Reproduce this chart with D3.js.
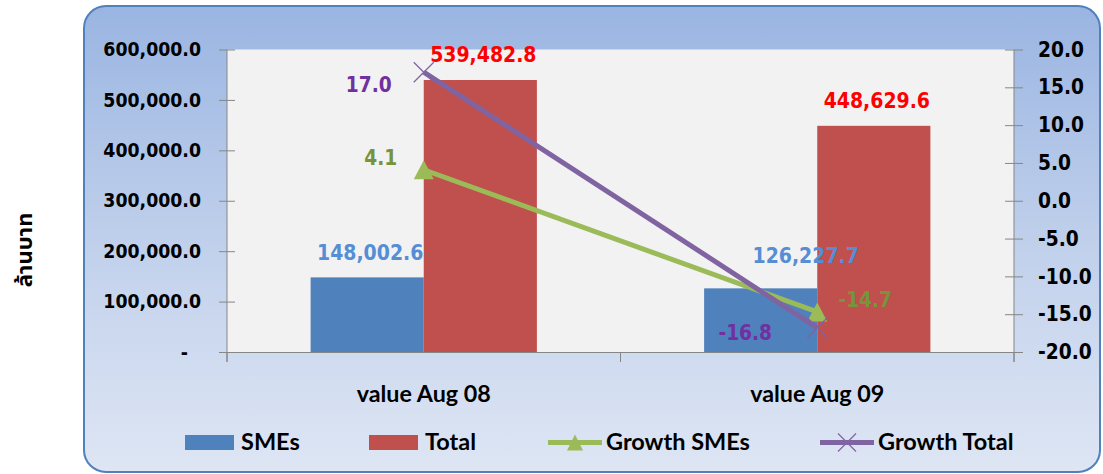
<!DOCTYPE html>
<html><head><meta charset="utf-8">
<script src="https://cdn.jsdelivr.net/npm/d3@7"></script>
<style>
html,body{margin:0;padding:0;background:#fff;}
svg{display:block;}
.num{font-family:"DejaVu Sans Condensed","DejaVu Sans",sans-serif;font-stretch:condensed;font-weight:bold;}
.cal{font-family:Lato,"Open Sans",sans-serif;font-weight:bold;}
</style></head><body>
<svg id="chart" width="1103" height="474"></svg>
<script>
// ---- data ----
const categories = ["value Aug 08", "value Aug 09"];
const barSeries = ["SMEs", "Total"];
const smesValues = [148002.6, 126227.7];
const totalValues = [539482.8, 448629.6];
const growthSmes = [4.1, -14.7];
const growthTotal = [17.0, -16.8];
const leftTicks = [0, 100000, 200000, 300000, 400000, 500000, 600000];
const rightTicks = [-20, -15, -10, -5, 0, 5, 10, 15, 20];
const legendLabels = ["SMEs", "Total", "Growth SMEs", "Growth Total"];
const yAxisTitle = "ล้านบาท";

// ---- layout / style ----
const plot = {left: 227, right: 1014, top: 49.5, bottom: 352};
const colors = {SMEs: "#4F81BD", Total: "#C0504D", gS: "#9BBB59", gT: "#8064A2"};
const labelColors = {SMEs: "#558ED5", Total: "#FF0000", gS: "#77933C", gT: "#7030A0"};
const barLabelNudge = {SMEs: [[3, -17], [45, -25.6]], Total: [[3, -18], [3, -18]]};
const gSNudge = [[-43, -5], [48, -5]];
const gTNudge = [[-55, 20], [-72, 12]];
const legendX = [185, 369, 548, 820];

const loc = d3.formatLocale({decimal: ".", thousands: ",", grouping: [3], currency: ["", ""], minus: "-"});
const fmtL = loc.format(",.1f");
const fmtR = loc.format(".1f");

const svg = d3.select("#chart");
const defs = svg.append("defs");
const grad = defs.append("linearGradient").attr("id", "bg").attr("x1", 0).attr("y1", 0).attr("x2", 0).attr("y2", 1);
grad.append("stop").attr("offset", "0%").attr("stop-color", "#9AB5E2");
grad.append("stop").attr("offset", "55%").attr("stop-color", "#C3D2EC");
grad.append("stop").attr("offset", "100%").attr("stop-color", "#DEE6F4");

svg.append("rect").attr("x", 84).attr("y", 6).attr("width", 1016).attr("height", 466)
  .attr("rx", 22).attr("fill", "url(#bg)").attr("stroke", "#4F81BD").attr("stroke-width", 2);

svg.append("rect").attr("x", plot.left).attr("y", plot.top)
  .attr("width", plot.right - plot.left).attr("height", plot.bottom - plot.top).attr("fill", "#F2F2F2");

// scales
const x = d3.scaleBand().domain(categories).range([plot.left, plot.right]).padding(0);
const bw = x.bandwidth();
const xs = d3.scaleBand().domain(barSeries).range([bw * 0.2125, bw * 0.7875]);
const yL = d3.scaleLinear().domain([0, 600000]).range([plot.bottom, plot.top]);
const yR = d3.scaleLinear().domain([-20, 20]).range([plot.bottom, plot.top]);

// bars
const barData = {SMEs: smesValues, Total: totalValues};
barSeries.forEach(s => {
  svg.append("g").selectAll("rect").data(barData[s]).join("rect")
    .attr("x", (d, i) => x(categories[i]) + xs(s))
    .attr("y", d => yL(d))
    .attr("width", xs.bandwidth())
    .attr("height", d => yL(0) - yL(d))
    .attr("fill", colors[s]);
});

const axisColor = "#868686";
// left axis
const gl = svg.append("g").attr("transform", `translate(${plot.left},0)`)
  .call(d3.axisLeft(yL).tickValues(leftTicks).tickSize(8).tickSizeOuter(0).tickPadding(18)
    .tickFormat(d => d === 0 ? "-" : fmtL(d)));
gl.select(".domain").remove();
gl.selectAll(".tick line").attr("stroke", axisColor).attr("x2", 8).attr("x1", -8);
gl.selectAll(".tick text").attr("class", "num").attr("font-size", 19.3).attr("fill", "#000")
  .attr("dx", d => d === 0 ? -13 : 0);
gl.append("line").attr("x1", 0).attr("x2", 0).attr("y1", plot.top).attr("y2", plot.bottom + 10).attr("stroke", axisColor);

// right axis
const gr = svg.append("g").attr("transform", `translate(${plot.right},0)`)
  .call(d3.axisRight(yR).tickValues(rightTicks).tickSize(9).tickSizeOuter(0).tickPadding(15).tickFormat(fmtR));
gr.select(".domain").remove();
gr.selectAll(".tick line").attr("stroke", axisColor).attr("x1", -9);
gr.selectAll(".tick text").attr("class", "num").attr("font-size", 20.7).attr("fill", "#000");
gr.append("line").attr("x1", 0).attr("x2", 0).attr("y1", plot.top).attr("y2", plot.bottom + 10).attr("stroke", axisColor);

// bottom axis
const gb = svg.append("g").attr("transform", `translate(0,${plot.bottom})`)
  .call(d3.axisBottom(x).tickSize(0).tickPadding(0));
gb.select(".domain").attr("stroke", axisColor);
gb.selectAll(".tick text").attr("class", "cal").attr("font-size", 23.3).attr("fill", "#000")
  .attr("y", 50).attr("dy", 0);
const bounds = categories.map(c => x(c)).concat([x.range()[1]]);
gb.selectAll(".bt").data(bounds).join("line").attr("x1", d => d).attr("x2", d => d)
  .attr("y1", 0).attr("y2", 10).attr("stroke", axisColor);

// lines
const cx = i => x(categories[i]) + bw / 2;
const line = d3.line().x((d, i) => cx(i)).y(d => yR(d));
svg.append("path").datum(growthSmes).attr("d", line).attr("fill", "none")
  .attr("stroke", colors.gS).attr("stroke-width", 5);
const tri = (px, py, hw, h) => `M${px},${py - h * 0.5}L${px + hw},${py + h * 0.5}L${px - hw},${py + h * 0.5}Z`;
svg.append("g").selectAll("path").data(growthSmes).join("path")
  .attr("d", (d, i) => tri(cx(i), yR(d), 10, 19)).attr("fill", colors.gS);

svg.append("path").datum(growthTotal).attr("d", line).attr("fill", "none")
  .attr("stroke", colors.gT).attr("stroke-width", 5);
const cross = (px, py, r) => `M${px - r},${py - r}L${px + r},${py + r}M${px - r},${py + r}L${px + r},${py - r}`;
svg.append("g").selectAll("path").data(growthTotal).join("path")
  .attr("d", (d, i) => cross(cx(i), yR(d), 10)).attr("stroke", colors.gT).attr("stroke-width", 1.3).attr("fill", "none");

// data labels
barSeries.forEach(s => {
  svg.append("g").selectAll("text").data(barData[s]).join("text")
    .attr("class", "num").attr("font-size", 21).attr("fill", labelColors[s]).attr("text-anchor", "middle")
    .attr("x", (d, i) => x(categories[i]) + xs(s) + xs.bandwidth() / 2 + barLabelNudge[s][i][0])
    .attr("y", (d, i) => yL(d) + barLabelNudge[s][i][1])
    .text(d => fmtL(d));
});
svg.append("g").selectAll("text").data(growthSmes).join("text")
  .attr("class", "num").attr("font-size", 20.7).attr("fill", labelColors.gS).attr("text-anchor", "middle")
  .attr("x", (d, i) => cx(i) + gSNudge[i][0]).attr("y", (d, i) => yR(d) + gSNudge[i][1])
  .text(d => fmtR(d));
svg.append("g").selectAll("text").data(growthTotal).join("text")
  .attr("class", "num").attr("font-size", 20.7).attr("fill", labelColors.gT).attr("text-anchor", "middle")
  .attr("x", (d, i) => cx(i) + gTNudge[i][0]).attr("y", (d, i) => yR(d) + gTNudge[i][1])
  .text(d => fmtR(d));

// y axis title
svg.append("text").attr("transform", "translate(32,250) rotate(-90)")
  .attr("text-anchor", "middle").attr("font-family", "'Noto Sans Thai','Noto Sans',sans-serif")
  .attr("font-weight", "bold").attr("font-size", 22).attr("fill", "#000").text(yAxisTitle);

// legend
const ly = 442.5;
const lg = svg.append("g");
legendLabels.forEach((lab, i) => {
  const lx = legendX[i];
  let tx;
  if (i < 2) {
    lg.append("rect").attr("x", lx).attr("y", ly - 7.5).attr("width", 49).attr("height", 15)
      .attr("fill", colors[barSeries[i]]);
    tx = lx + 56;
  } else {
    const c = i === 2 ? colors.gS : colors.gT;
    lg.append("line").attr("x1", lx).attr("x2", lx + 54).attr("y1", ly).attr("y2", ly)
      .attr("stroke", c).attr("stroke-width", 5);
    if (i === 2) lg.append("path").attr("d", tri(lx + 27, ly, 8, 16)).attr("fill", c);
    else lg.append("path").attr("d", cross(lx + 27, ly, 9)).attr("stroke", c).attr("stroke-width", 1.2);
    tx = lx + 58;
  }
  lg.append("text").attr("class", "cal").attr("x", tx).attr("y", 450).attr("font-size", 23.5)
    .attr("fill", "#000").text(lab);
});
</script>
</body></html>
